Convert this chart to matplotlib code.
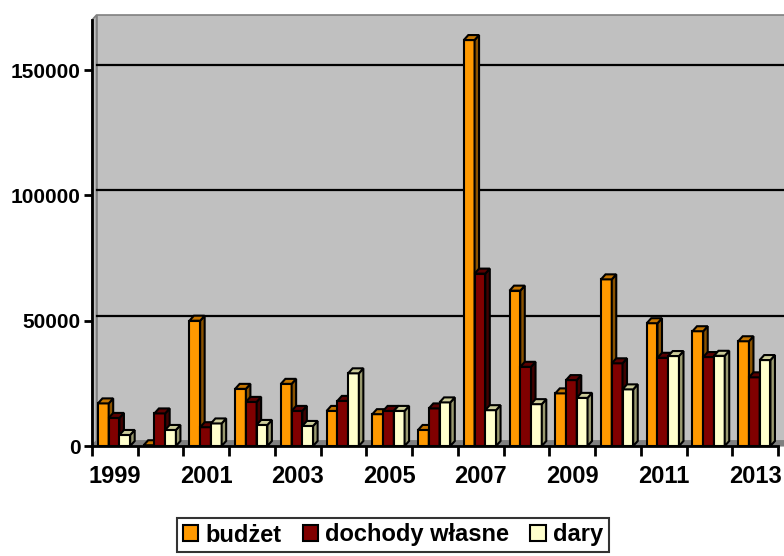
import numpy as np
import matplotlib
matplotlib.use("Agg")
import matplotlib.pyplot as plt
from matplotlib.patches import Polygon, Rectangle, Patch

plt.rcParams['font.family'] = ['Liberation Sans', 'DejaVu Sans']
plt.rcParams['font.weight'] = 'bold'

years = list(range(1999, 2014))
budzet = [17000, 300, 50000, 22800, 24800, 14000, 12700, 6400, 162000, 62000, 21000, 66500, 49000, 45800, 41800]
dochody = [11200, 13000, 7500, 17600, 14000, 18000, 14000, 15000, 68800, 31600, 26300, 33000, 35200, 35500, 27400]
dary = [4400, 6400, 9000, 8400, 8000, 29000, 14000, 17400, 14300, 16700, 19200, 22600, 35900, 36000, 34300]

series = [
    ("budżet", budzet, "#FF9900", "#C47500", "#8A5200"),
    ("dochody własne", dochody, "#800000", "#5A0000", "#400000"),
    ("dary", dary, "#FFFFCC", "#CCCC99", "#9A9A70"),
]

ymax = 170000
n = len(years)

fig = plt.figure(figsize=(7.84, 5.56), dpi=100)
ax = fig.add_axes([92 / 784, 110 / 556, 686 / 784, 426 / 556])
ax.set_xlim(0, n)
ax.set_ylim(0, ymax)

# pixel -> data helpers for the fake depth
px_x = n / 686
px_y = ymax / 426
ddx, ddy = 4.5 * px_x, 5 * px_y

# back wall, side wall, floor
ax.add_patch(Polygon([(0, 0), (ddx, ddy), (ddx, ymax + ddy), (0, ymax)],
                     closed=True, fc="#C0C0C0", ec="#808080", lw=1.2, clip_on=False, zorder=0))
ax.add_patch(Rectangle((ddx, ddy), n + 0.2, ymax, fc="#C0C0C0", ec="#808080",
                       lw=1.2, clip_on=False, zorder=0))
ax.add_patch(Polygon([(0, 0), (n + 0.2, 0), (n + 0.2 + ddx, ddy), (ddx, ddy)],
                     closed=True, fc="#808080", ec="#808080", lw=0.8, clip_on=False, zorder=0.5))
for g in [50000, 100000, 150000]:
    ax.plot([ddx, n + 0.2 + ddx], [g + ddy, g + ddy], color="black", lw=1.6,
            clip_on=False, zorder=0.6)

bw = 0.235


def draw_bar(x, h, front, top, side):
    ax.add_patch(Rectangle((x, 0), bw, h, fc=front, ec="black", lw=1.5, zorder=2, clip_on=False))
    ax.add_patch(Polygon([(x + bw, 0), (x + bw + ddx, ddy), (x + bw + ddx, h + ddy), (x + bw, h)],
                         closed=True, fc=side, ec="black", lw=1.5, zorder=2, clip_on=False))
    ax.add_patch(Polygon([(x, h), (x + ddx, h + ddy), (x + bw + ddx, h + ddy), (x + bw, h)],
                         closed=True, fc=top, ec="black", lw=1.5, zorder=2, clip_on=False))


for i in range(n):
    for j, (name, vals, front, top, side) in enumerate(series):
        x0 = i + 0.13 + j * bw
        draw_bar(x0, vals[i], front, top, side)

for s in ["top", "right"]:
    ax.spines[s].set_visible(False)
ax.spines["left"].set_linewidth(2)
ax.spines["bottom"].set_linewidth(2)
ax.spines["left"].set_zorder(3)
ax.spines["bottom"].set_zorder(3)

ax.set_yticks([0, 50000, 100000, 150000])
ax.set_yticklabels(["0", "50000", "100000", "150000"], fontsize=15, fontweight="bold")
ax.tick_params(axis="y", length=6, width=2, pad=2)

ax.set_xticks(np.arange(0, n + 1))
ax.set_xticklabels([])
ax.tick_params(axis="x", which="major", length=7, width=2)
ax.set_xticks(np.arange(n) + 0.5, minor=True)
ax.set_xticklabels([str(y) if k % 2 == 0 else "" for k, y in enumerate(years)],
                   minor=True, fontsize=17, fontweight="bold")
ax.tick_params(axis="x", which="minor", length=0, pad=14)

handles = [Patch(fc=c, ec="black", lw=1.5) for _, _, c, _, _ in series]
leg = fig.legend(handles, [s[0] for s in series], loc="center", bbox_to_anchor=(393 / 784, 1 - 535 / 556),
                 ncol=3, frameon=True, fancybox=False, prop={"size": 17, "weight": "bold"},
                 handlelength=0.65, handleheight=0.65, handletextpad=0.3, columnspacing=0.9,
                 borderpad=0.25, borderaxespad=0)
leg.get_frame().set_edgecolor("black")
leg.get_frame().set_linewidth(1.5)

fig.savefig("out.png", dpi=100)
